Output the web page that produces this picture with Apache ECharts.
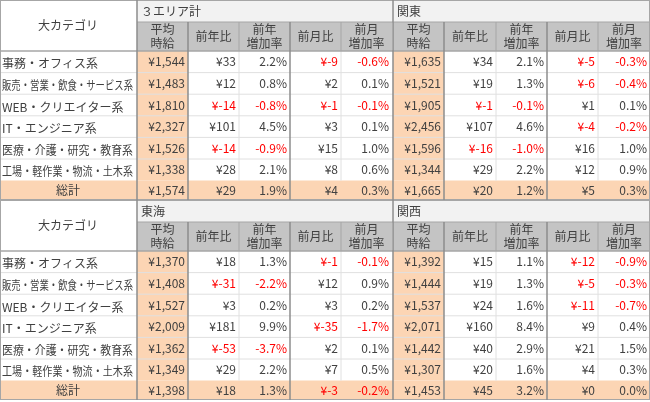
<!DOCTYPE html>
<html><head><meta charset="utf-8">
<script src="https://cdn.jsdelivr.net/npm/echarts@6/dist/echarts.min.js"></script>
<style>html,body{margin:0;padding:0;background:#fff}#c{width:650px;height:402px}</style>
</head><body><div id="c"></div>
<script>
const categories = ['事務・オフィス系','販売・営業・飲食・サービス系','WEB・クリエイター系','IT・エンジニア系','医療・介護・研究・教育系','工場・軽作業・物流・土木系','総計'];
const subHeaders = ['平均\n時給','前年比','前年\n増加率','前月比','前月\n増加率'];
const regionNames = ['３エリア計','関東','東海','関西'];
const wage3 = [1544,1483,1810,2327,1526,1338,1574];
const yoy3 = [33,12,-14,101,-14,28,29];
const yoyPct3 = [2.2,0.8,-0.8,4.5,-0.9,2.1,1.9];
const mom3 = [-9,2,-1,3,15,8,4];
const momPct3 = [-0.6,0.1,-0.1,0.1,1.0,0.6,0.3];
const wageKanto = [1635,1521,1905,2456,1596,1344,1665];
const yoyKanto = [34,19,-1,107,-16,29,20];
const yoyPctKanto = [2.1,1.3,-0.1,4.6,-1.0,2.2,1.2];
const momKanto = [-5,-6,1,-4,16,12,5];
const momPctKanto = [-0.3,-0.4,0.1,-0.2,1.0,0.9,0.3];
const wageTokai = [1370,1408,1527,2009,1362,1349,1398];
const yoyTokai = [18,-31,3,181,-53,29,18];
const yoyPctTokai = [1.3,-2.2,0.2,9.9,-3.7,2.2,1.3];
const momTokai = [-1,12,3,-35,2,7,-3];
const momPctTokai = [-0.1,0.9,0.2,-1.7,0.1,0.5,-0.2];
const wageKansai = [1392,1444,1537,2071,1442,1307,1453];
const yoyKansai = [15,19,24,160,40,20,45];
const yoyPctKansai = [1.1,1.3,1.6,8.4,2.9,1.6,3.2];
const momKansai = [-12,-5,-11,9,21,4,0];
const momPctKansai = [-0.9,-0.3,-0.7,0.4,1.5,0.3,0.0];
const regions = [
  [wage3,yoy3,yoyPct3,mom3,momPct3],
  [wageKanto,yoyKanto,yoyPctKanto,momKanto,momPctKanto],
  [wageTokai,yoyTokai,yoyPctTokai,momTokai,momPctTokai],
  [wageKansai,yoyKansai,yoyPctKansai,momKansai,momPctKansai]
];

const colX = [[137,188,239,290,341,392],[393,444,496,547,598,650]];
const F = '"Noto Sans CJK JP", sans-serif';
const TXT = '#404040', RED = '#ff0000', ORANGE = '#fcd5b4', HEAD = '#c4c4c4', LIGHT = '#f2f2f2';
const fmtY = v => '¥' + (v<0?'-':'') + Math.abs(v).toLocaleString('en-US');
const fmtP = v => v.toFixed(1) + '%';
const ctx = document.createElement('canvas').getContext('2d');
ctx.font = '12px ' + F;
const els = [];
function rect(x,y,w,h,fill){els.push({type:'rect',shape:{x,y,width:w,height:h},style:{fill}});}
function line(x1,y1,x2,y2,c,w){els.push({type:'line',shape:{x1,y1,x2,y2},style:{stroke:c,lineWidth:w}});}
function text(t,x,y,align,color,sx){els.push({type:'text',x,y,scaleX:sx||1,style:{text:t,font:'12px '+F,fill:color||TXT,align:align||'left',verticalAlign:'middle',lineHeight:14}});}

const blocks = [{top:0, r:[0,1]},{top:200, r:[2,3]}];
blocks.forEach(b=>{
  const t=b.top, hH=22, sH=29, rowH=21.6;
  const dataTop=t+hH+sH;
  const rowY = i => dataTop + i*rowH;
  const totalTop=rowY(6), bottom=t+200;
  rect(0,t,137,hH+sH,'#ffffff');
  b.r.forEach((ri,k)=>{
    const cx=colX[k];
    rect(cx[0],t,cx[5]-cx[0],hH,LIGHT);
    rect(cx[0],t+hH,cx[5]-cx[0],sH,HEAD);
    rect(cx[0],dataTop,cx[1]-cx[0],totalTop-dataTop,ORANGE);
  });
  rect(0,totalTop,650,bottom-totalTop,ORANGE);
  for(let i=1;i<=5;i++) line(0,rowY(i),650,rowY(i),'#e0e0e0',1);
  b.r.forEach((ri,k)=>{
    const cx=colX[k];
    [2,4].forEach(j=>line(cx[j],dataTop,cx[j],totalTop,'#e0e0e0',1));
  });
  line(0,t+0.5,650,t+0.5,'#a6a6a6',1);
  line(colX[0][0],t+hH,650,t+hH,'#a6a6a6',1);
  line(0,dataTop,650,dataTop,'#a6a6a6',1.5);
  line(0,bottom-0.5,650,bottom-0.5,'#a6a6a6',1);
  line(0.5,t,0.5,bottom,'#a6a6a6',1);
  line(649.5,t,649.5,bottom,'#a6a6a6',1);
  b.r.forEach((ri,k)=>{
    const cx=colX[k];
    line(cx[0],t,cx[0],bottom,'#8c8c8c',1.5);
    [1,3].forEach(j=>line(cx[j],t+hH,cx[j],bottom,'#8c8c8c',1.5));
    [2,4].forEach(j=>line(cx[j],t+hH,cx[j],dataTop,'#a6a6a6',1));
  });
  text('大カテゴリ',68,t+(hH+sH)/2,'center');
  b.r.forEach((ri,k)=>{
    const cx=colX[k];
    text(regionNames[ri],cx[0]+4,t+hH/2,'left');
    subHeaders.forEach((s,j)=>text(s,(cx[j]+cx[j+1])/2,t+hH+sH/2,'center'));
    const d=regions[ri];
    for(let i=0;i<7;i++){
      const yc = i<6 ? rowY(i)+rowH/2 : (totalTop+bottom)/2;
      for(let j=0;j<5;j++){
        const v=d[j][i];
        const s = (j===2||j===4)?fmtP(v):fmtY(v);
        const neg = j>0 && v<0;
        text(s,cx[j+1]-3,yc,'right',neg?RED:TXT);
      }
    }
  });
  for(let i=0;i<6;i++){
    const w = ctx.measureText(categories[i]).width;
    text(categories[i],2,rowY(i)+rowH/2+2,'left',TXT,Math.min(1,131/w));
  }
  text(categories[6],68,(totalTop+bottom)/2,'center');
});

const chart=echarts.init(document.getElementById('c'));
chart.setOption({animation:false,graphic:{elements:els}});
</script></body></html>
